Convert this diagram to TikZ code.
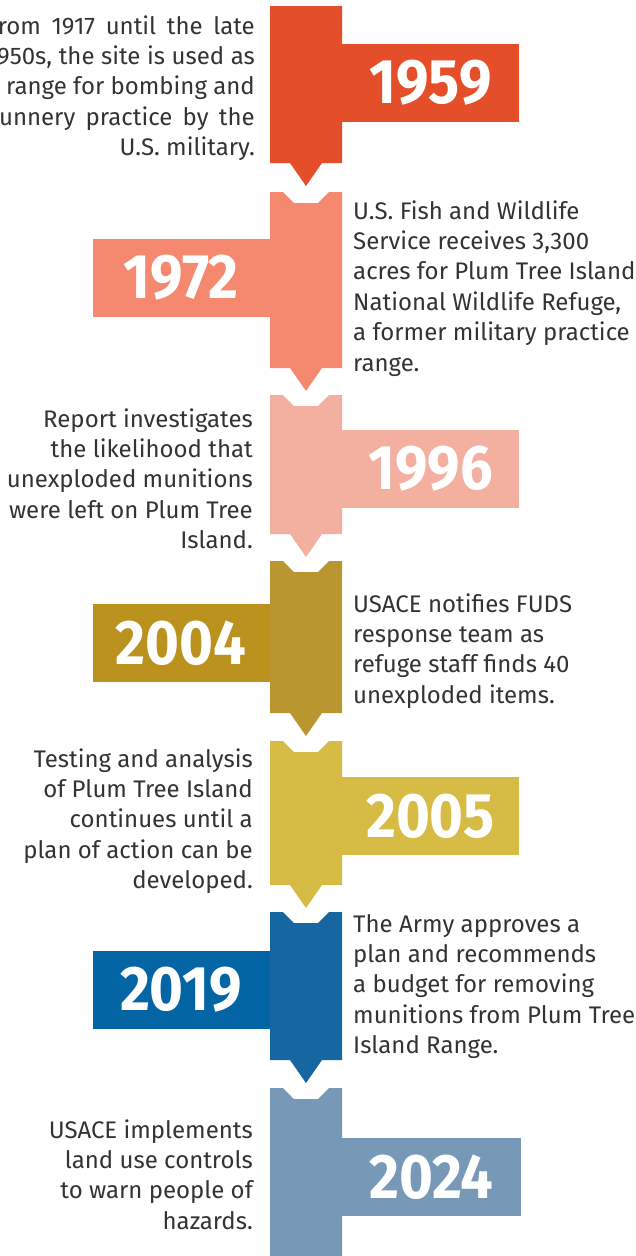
\documentclass[tikz,border=0pt]{standalone}
\usepackage{fontspec}
\setmainfont{Fira Sans}
\newfontfamily\yearfont{Fira Sans}[FakeStretch=0.92]

\definecolor{c1959}{HTML}{E44F2A}
\definecolor{c1972}{HTML}{F4896F}
\definecolor{c1996}{HTML}{F3AFA0}
\definecolor{c2004}{HTML}{BA9630}
\definecolor{c2004tab}{HTML}{BC921E}
\definecolor{c2005}{HTML}{D6BB45}
\definecolor{c2019}{HTML}{1566A1}
\definecolor{c2019tab}{HTML}{0465A5}
\definecolor{c2024}{HTML}{7798B7}
\definecolor{txtgray}{HTML}{333333}

\tikzset{
  desc/.style={font=\fontsize{24}{30.4}\selectfont, text=txtgray, inner sep=0pt},
  yeartab/.style={minimum width=177pt, minimum height=78pt, inner sep=0pt,
    text=white, font=\yearfont\fontsize{63}{63}\selectfont\bfseries},
}

\begin{document}
\begin{tikzpicture}[x=1pt,y=-1pt]
  \clip (0,0) rectangle (636,1256);

  % year tabs
  \node[yeartab, fill=c1959] (y1959) at (430.5,83) {1959};
  \node[yeartab, fill=c1972] (y1972) at (181,278) {1972};
  \node[yeartab, fill=c1996] (y1996) at (430.5,469) {1996};
  \node[yeartab, fill=c2004tab] (y2004) at (181,643) {2004};
  \node[yeartab, fill=c2005] (y2005) at (430.5,816) {2005};
  \node[yeartab, fill=c2019tab] (y2019) at (181,989.5) {2019};
  \node[yeartab, fill=c2024, minimum width=179pt] (y2024) at (431.5,1177) {2024};

  % columns: notch on top, arrow at the bottom
  \fill[c1959] (270,6) -- (342,6) -- (342,163) -- (322,163) -- (306,186) -- (290,163) -- (270,163) -- cycle;
  \foreach \t/\b/\c in {192/368/c1972, 395/534/c1996, 561/713/c2004, 741/885/c2005, 912/1060/c2019}
    \fill[\c] (270,\t) -- (283,\t) -- (294,\t+11) -- (318,\t+11) -- (329,\t) -- (342,\t)
      -- (342,\b) -- (322,\b) -- (306,\b+23) -- (290,\b) -- (270,\b) -- cycle;
  \fill[c2024] (270,1088) -- (283,1088) -- (294,1099) -- (318,1099) -- (329,1088) -- (342,1088)
    -- (342,1256) -- (270,1256) -- cycle;

  % texts
  \node[desc, anchor=north east, align=right] (d1959) at (255,12.7)
    {\strut\makebox[268pt][s]{From 1917 until the late}\\
     \makebox[268pt][s]{1950s, the site is used as}\\
     \makebox[268pt][s]{a range for bombing and}\\
     \makebox[268pt][s]{gunnery practice by the}\\
     U.S. military.};
  \node[desc, anchor=north west, align=left] (d1972) at (353,197.7)
    {\strut U.S. Fish and Wildlife\\ Service receives 3,300\\ acres for Plum Tree Island\\
     National Wildlife Refuge,\\ a former military practice\\ range.};
  \node[desc, anchor=north east, align=right] (d1996) at (253,405.7)
    {\strut Report investigates\\ the likelihood that\\ unexploded munitions\\
     were left on Plum Tree\\ Island.};
  \node[desc, anchor=north west, align=left] (d2004) at (353,590.7)
    {\strut USACE notifies FUDS\\ response team as\\ refuge staff finds 40\\ unexploded items.};
  \node[desc, anchor=north east, align=right] (d2005) at (253,745.7)
    {\strut Testing and analysis\\ of Plum Tree Island\\ continues until a\\
     plan of action can be\\ developed.};
  \node[desc, anchor=north west, align=left] (d2019) at (353,910.7)
    {\strut The Army approves a\\ plan and recommends\\ a budget for removing\\
     munitions from Plum Tree\\ Island Range.};
  \node[desc, anchor=north east, align=right] (d2024) at (253,1116.7)
    {\strut USACE implements\\ land use controls\\ to warn people of\\ hazards.};
\end{tikzpicture}
\end{document}
